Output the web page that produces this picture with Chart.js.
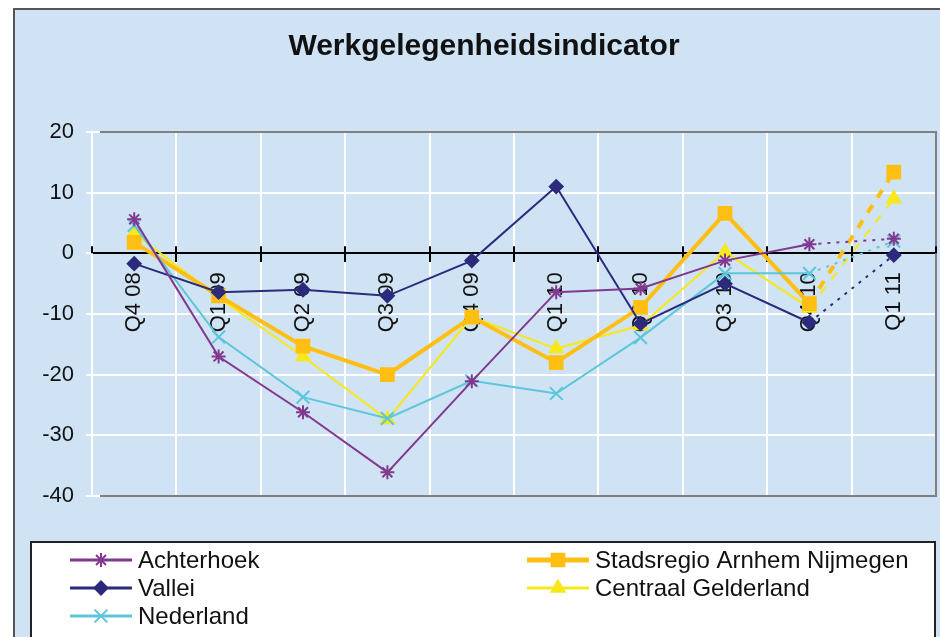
<!DOCTYPE html>
<html>
<head>
<meta charset="utf-8">
<script src="https://cdn.jsdelivr.net/npm/chart.js@4/dist/chart.umd.min.js"></script>
<style>
  body { margin: 0; background: #fff; overflow: hidden; }
  #frame { position: absolute; left: 13px; top: 8px; width: 1000px; height: 700px;
           background: #cfe3f4; border: 2px solid #555; }
  #c { position: absolute; left: 0; top: 0; }
</style>
</head>
<body>
<div id="frame"></div>
<canvas id="c" width="940" height="637"></canvas>
<script>
const FONT = "'Liberation Sans', Arial, sans-serif";
const TITLE = 'Werkgelegenheidsindicator';

// kwartalen
const categories = ['Q4 08', 'Q1 09', 'Q2 09', 'Q3 09', 'Q4 09', 'Q1 10', 'Q2 10', 'Q3 10', 'Q4 10', 'Q1 11'];

// waarden per regio
const achterhoek = [5.6, -17, -26.2, -36.1, -21.1, -6.4, -5.8, -1.2, 1.5, 2.4];
const vallei = [-1.7, -6.4, -6, -7, -1.2, 11, -11.6, -5, -11.4, -0.3];
const nederland = [4.6, -13.8, -23.7, -27.2, -21, -23.1, -13.9, -3.3, -3.3, 2];
const stadsregio = [1.8, -7, -15.3, -20, -10.5, -18, -8.9, 6.6, -8.3, 13.4];
const centraal = [3.3, -7.3, -17, -27.4, -10.5, -15.7, -11.9, 0.2, -9, 9];

const yTicks = [-40, -30, -20, -10, 0, 10, 20];

// laatste stuk (prognose) gestippeld
function lastDash(dash) {
    return c => (c.p1DataIndex === categories.length - 1 ? dash : undefined);
}

function serie(label, data, color, style, radius, width, dash) {
    return {
        label: label,
        data: data,
        borderColor: color,
        backgroundColor: color,
        pointBackgroundColor: color,
        pointBorderColor: color,
        pointStyle: style,
        pointRadius: radius,
        pointHoverRadius: radius,
        pointBorderWidth: 2,
        borderWidth: width,
        tension: 0,
        segment: { borderDash: lastDash(dash) },
    };
}

const datasets = [
    serie('Achterhoek', achterhoek, '#82388f', 'star', 7, 2, [3, 6]),
    serie('Vallei', vallei, '#2b2a7c', 'rectRot', 6.5, 2, [3, 6]),
    serie('Nederland', nederland, '#5cc6da', 'crossRot', 9, 2, [3, 6]),
    serie('Stadsregio Arnhem Nijmegen', stadsregio, '#ffbf12', 'rect', 9, 4, [9, 9]),
    serie('Centraal Gelderland', centraal, '#f7e81a', 'triangle', 7.5, 2, [9, 9]),
];

// titel, rand rond het plotgebied en streepjes op de nullijn
const plotBorder = {
    id: 'plotBorder',
    beforeDatasetsDraw(chart) {
        const a = chart.chartArea;
        const ctx = chart.ctx;
        ctx.save();
        ctx.strokeStyle = '#808080';
        ctx.lineWidth = 2;
        ctx.beginPath();
        ctx.moveTo(a.left + 8, a.top);
        ctx.lineTo(a.right, a.top);
        ctx.lineTo(a.right, a.bottom);
        ctx.lineTo(a.left + 8, a.bottom);
        ctx.stroke();
        // tick marks boven de nullijn
        const x = chart.scales.x;
        const y0 = chart.scales.y.getPixelForValue(0);
        ctx.strokeStyle = '#000';
        ctx.beginPath();
        for (let i = 0; i <= categories.length; i++) {
            const px = Math.round(x.getPixelForTick(0) + (i - 0.5) * (x.getPixelForTick(1) - x.getPixelForTick(0)));
            ctx.moveTo(px, y0 - 7);
            ctx.lineTo(px, y0);
        }
        ctx.stroke();
        ctx.fillStyle = '#111';
        ctx.font = 'bold 30px ' + FONT;
        ctx.textAlign = 'center';
        ctx.textBaseline = 'middle';
        ctx.fillText(TITLE, 484, 47);
        ctx.restore();
    },
};

// legenda in twee kolommen
const legendBox = {
    id: 'legendBox',
    afterDraw(chart) {
        const ctx = chart.ctx;
        ctx.save();
        ctx.fillStyle = '#fff';
        ctx.fillRect(30, 541, 906, 120);
        ctx.strokeStyle = '#222';
        ctx.lineWidth = 2;
        ctx.strokeRect(31, 542, 904, 120);
        chart.data.datasets.forEach((ds, i) => {
            const col = i < 3 ? 0 : 1;
            const row = i < 3 ? i : i - 3;
            const x0 = col ? 527 : 70;
            const y = 560 + row * 28;
            ctx.setLineDash([]);
            ctx.strokeStyle = ds.borderColor;
            ctx.lineWidth = ds.borderWidth + 1;
            ctx.beginPath();
            ctx.moveTo(x0, y);
            ctx.lineTo(x0 + 62, y);
            ctx.stroke();
            ctx.fillStyle = ds.pointBackgroundColor;
            ctx.strokeStyle = ds.pointBorderColor;
            ctx.lineWidth = ds.pointBorderWidth;
            Chart.helpers.drawPoint(ctx, {
                pointStyle: ds.pointStyle,
                radius: ds.pointRadius,
                borderWidth: ds.pointBorderWidth,
                rotation: 0,
            }, x0 + 31, y);
            ctx.fillStyle = '#111';
            ctx.font = '24px ' + FONT;
            ctx.textBaseline = 'middle';
            ctx.textAlign = 'left';
            ctx.fillText(ds.label, x0 + 68, y + 1);
        });
        ctx.restore();
    },
};

new Chart(document.getElementById('c'), {
    type: 'line',
    data: { labels: categories, datasets: datasets },
    plugins: [plotBorder, legendBox],
    options: {
        responsive: false,
        animation: false,
        layout: { autoPadding: false, padding: { top: 132, left: 0, right: 4, bottom: 141 } },
        plugins: {
            legend: { display: false },
            tooltip: { enabled: false },
            title: { display: false },
        },
        scales: {
            x: {
                position: { y: 0 },
                offset: true,
                afterFit: s => { s.paddingLeft = 0; s.paddingRight = 0; },
                grid: { offset: true, color: '#ffffff', lineWidth: 2, tickColor: '#000', tickLength: 8 },
                border: { color: '#000', width: 2 },
                ticks: {
                    minRotation: 90, maxRotation: 90, autoSkip: false, padding: 11,
                    color: '#111', font: { family: FONT, size: 22 },
                },
            },
            y: {
                min: -40,
                max: 20,
                afterBuildTicks: s => { s.ticks = yTicks.map(v => ({ value: v })); },
                afterFit: s => { s.width = 92; },
                grid: { color: '#ffffff', lineWidth: 2, tickColor: '#ffffff', tickLength: 6 },
                border: { color: '#ffffff', width: 2 },
                ticks: { color: '#111', padding: 12, font: { family: FONT, size: 22 } },
            },
        },
    },
});
</script>
</body>
</html>
